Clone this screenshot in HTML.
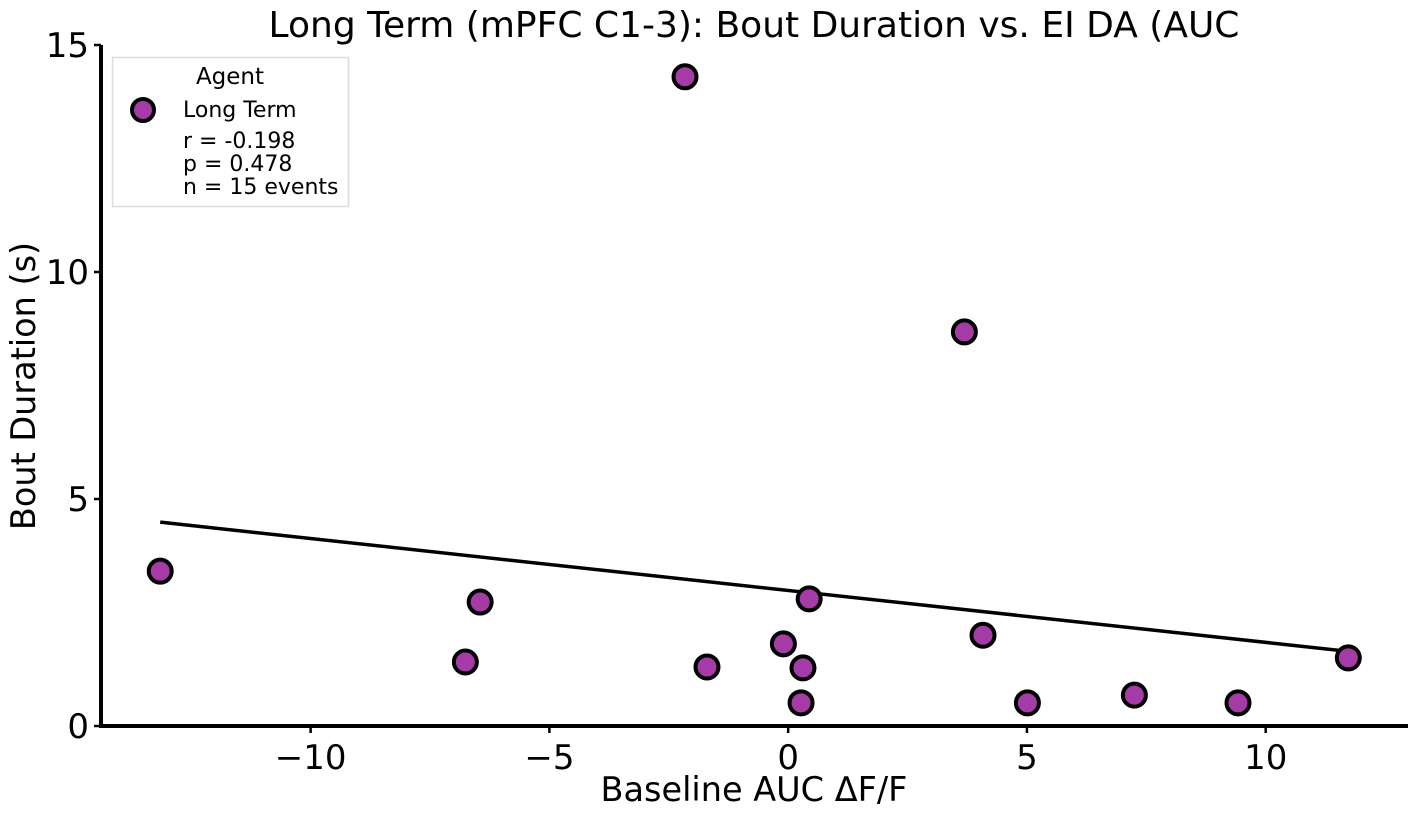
<!DOCTYPE html>
<html><head><meta charset="utf-8">
<style>
html,body{margin:0;padding:0;background:#fff;}
svg{display:block;font-family:"DejaVu Sans","Liberation Sans",sans-serif;}
</style></head>
<body>
<svg id="chart" width="1417" height="817" viewBox="0 0 1417 817">
<text x="754" y="37" font-size="36" text-anchor="middle">Long Term (mPFC C1-3): Bout Duration vs. EI DA (AUC</text>
<g id="marks"></g>
<g id="axes"></g>
<text x="754" y="801" font-size="33.5" text-anchor="middle">Baseline AUC ΔF/F</text>
<text transform="translate(35,386) rotate(-90)" font-size="33.5" text-anchor="middle">Bout Duration (s)</text>
<g>
<rect x="112.5" y="57.5" width="236" height="149" fill="#fff" stroke="#dcdcdc" stroke-width="1.5"/>
<text x="230" y="84" font-size="23" text-anchor="middle">Agent</text>
<circle cx="143" cy="110" r="11" fill="#a43ba6" stroke="#000" stroke-width="4"/>
<text x="183" y="117" font-size="22">Long Term</text>
<text x="183" y="148" font-size="22">r = -0.198</text>
<text x="183" y="171" font-size="22">p = 0.478</text>
<text x="183" y="194" font-size="22">n = 15 events</text>
</g>
</svg>
<script>
const xValues = [-13.15, -6.45, -6.76, -2.16, -1.70, -0.10, 0.44, 0.31, 0.27, 3.69, 4.08, 5.01, 7.25, 9.42, 11.73];
const yValues = [3.41, 2.73, 1.41, 14.3, 1.30, 1.81, 2.80, 1.28, 0.51, 8.68, 2.00, 0.51, 0.68, 0.51, 1.50];
const xTicks = [-10, -5, 0, 5, 10];
const yTicks = [0, 5, 10, 15];
const xTickLabels = ["\u221210", "\u22125", "0", "5", "10"];
const yTickLabels = ["0", "5", "10", "15"];

const NS = "http://www.w3.org/2000/svg";
const xMin = -14.39, xMax = 12.98, yMin = 0, yMax = 15;
const pL = 101, pR = 1408, pT = 45, pB = 726;
function sx(v){ return pL + (v - xMin) / (xMax - xMin) * (pR - pL); }
function sy(v){ return pB - (v - yMin) / (yMax - yMin) * (pB - pT); }
function mk(tag, attrs, parent){ const e = document.createElementNS(NS, tag); for (const k in attrs) e.setAttribute(k, attrs[k]); parent.appendChild(e); return e; }

const marks = document.getElementById('marks');
const axes = document.getElementById('axes');

const n = xValues.length;
const mx = xValues.reduce((a,b)=>a+b,0)/n, my = yValues.reduce((a,b)=>a+b,0)/n;
let sxy = 0, sxx = 0;
for (let i=0;i<n;i++){ sxy += (xValues[i]-mx)*(yValues[i]-my); sxx += (xValues[i]-mx)**2; }
const slope = sxy/sxx, icpt = my - slope*mx;
const x0 = Math.min(...xValues), x1 = Math.max(...xValues);
const line = mk('line', {x1:sx(x0), y1:sy(icpt+slope*x0), x2:sx(x1), y2:sy(icpt+slope*x1), stroke:'#000', 'stroke-width':3.5}, marks);



for (let i=0;i<n;i++){
  const c = mk('circle', {cx:sx(xValues[i]), cy:sy(yValues[i]), r:11.5, fill:'#a43ba6', stroke:'#000', 'stroke-width':4}, marks);
  
  
}

const xa = mk('line', {x1:pL-2, y1:pB, x2:pR, y2:pB, stroke:'#000', 'stroke-width':4}, axes);


const ya = mk('line', {x1:pL, y1:pT, x2:pL, y2:pB+2, stroke:'#000', 'stroke-width':4}, axes);



xTicks.forEach((t,i)=>{
  const x = sx(t);
  const tk = mk('line', {x1:x, y1:pB, x2:x, y2:pB+7, stroke:'#000', 'stroke-width':2.5}, axes);
  
  
  const lb = mk('text', {x:x, y:pB+43, 'font-size':34, 'text-anchor':'middle'}, axes);
  lb.textContent = xTickLabels[i];
  
  
});
yTicks.forEach((t,i)=>{
  const y = sy(t);
  const tk = mk('line', {x1:pL-7, y1:y, x2:pL, y2:y, stroke:'#000', 'stroke-width':2.5}, axes);
  
  
  const lb = mk('text', {x:pL-12, y:y+12, 'font-size':34, 'text-anchor':'end'}, axes);
  lb.textContent = yTickLabels[i];
  
  
});
</script>
</body></html>
